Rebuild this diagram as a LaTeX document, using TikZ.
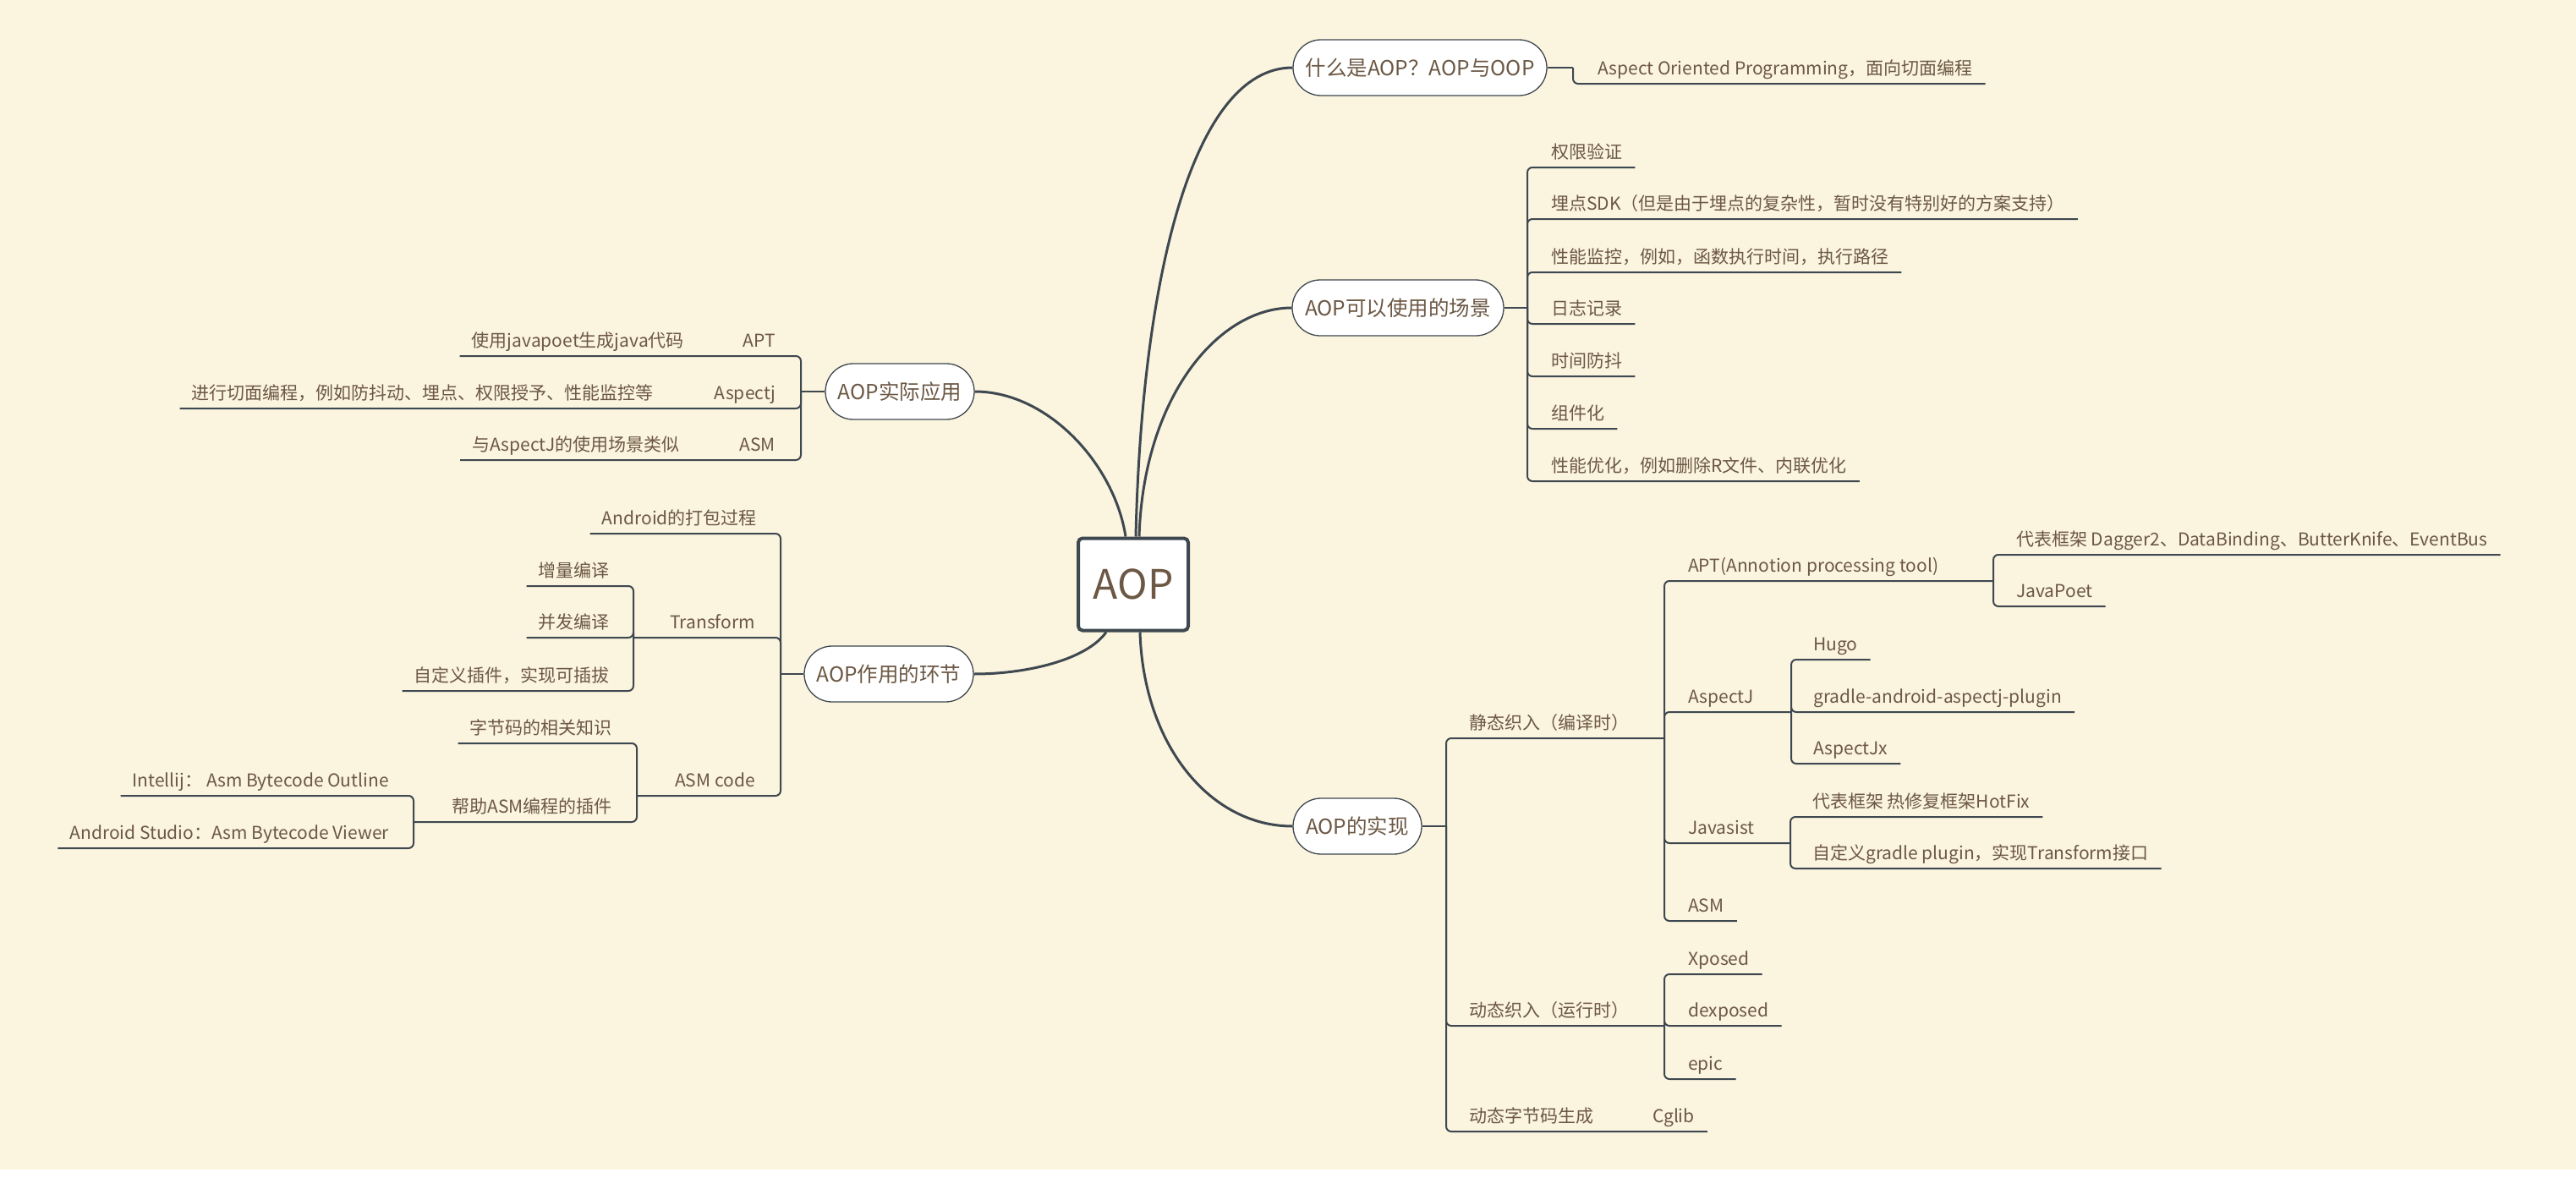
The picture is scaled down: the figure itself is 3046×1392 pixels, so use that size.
\documentclass[tikz,border=0pt]{standalone}
\usepackage{fontspec}
\setmainfont{Noto Sans CJK SC}
\usetikzlibrary{calc}
\definecolor{bgc}{RGB}{251,244,222}
\definecolor{lnc}{RGB}{62,72,80}
\definecolor{txc}{RGB}{108,88,68}
\tikzset{
  leaf/.style={inner sep=0pt, text height=17pt, text depth=10pt, text=txc, font=\fontsize{21}{25}\selectfont},
  lf/.style={leaf, anchor=south west},
  lfl/.style={leaf, anchor=south east},
  topic/.style={draw=lnc, line width=1.3pt, fill=white, rounded corners=33pt, minimum height=66pt, inner xsep=6pt, text=txc, font=\fontsize{24.5}{28}\selectfont},
  rootbox/.style={draw=lnc, line width=4pt, fill=white, rounded corners=5pt, minimum width=130pt, minimum height=109pt, inner sep=0pt, text=txc, font=\fontsize{48}{56}\selectfont},
  br/.style={draw=lnc, line width=2pt, rounded corners=6pt},
  stub/.style={draw=lnc, line width=2.6pt},
  mainc/.style={draw=lnc, line width=3pt},
}
\newcommand\RB[2]{\draw[br] (#1) -- (#1 |- #2.south) -- ([xshift=15pt]#2.south east);}
\newcommand\LB[2]{\draw[br] (#1) -- (#1 |- #2.south) -- ([xshift=-14pt]#2.south west);}
\begin{document}
\begin{tikzpicture}[x=1pt,y=-1pt]
\useasboundingbox (0,0) rectangle (3046,1392);
\fill[white] (0,0) rectangle (3046,1392);
\fill[bgc] (0,0) rectangle (3046,1383);

% main topics
\node[rootbox] (root) at (1340,691) {AOP};
\node[topic, minimum width=300pt] (t1) at (1679,80) {什么是AOP？AOP与OOP};
\node[topic, minimum width=250pt] (t2) at (1653,364) {AOP可以使用的场景};
\node[topic, minimum width=176pt] (t3) at (1064,463) {AOP实际应用};
\node[topic, minimum width=200pt] (t4) at (1051,797) {AOP作用的环节};
\node[topic, minimum width=152pt] (t5) at (1605,977) {AOP的实现};

\draw[mainc] ([xshift=3pt]root.north) .. controls (1350,330) and (1410,80) .. (t1.west);
\draw[mainc] ([xshift=7pt]root.north) .. controls (1352,470) and (1440,364) .. (t2.west);
\draw[mainc] ([xshift=-9pt]root.north) .. controls (1318,550) and (1240,463) .. (t3.east);
\draw[mainc] ([xshift=-32pt]root.south) .. controls (1285,780) and (1215,797) .. (t4.east);
\draw[mainc] ([xshift=8pt]root.south) .. controls (1352,880) and (1430,977) .. (t5.west);

% T1
\node[lf] (a1) at (1889,99) {Aspect Oriented Programming，面向切面编程};
\coordinate (j1) at (1860,80);
\draw[stub] (t1.east) -- (j1);
\RB{j1}{a1}

% T2
\coordinate (j2) at (1806,364);
\draw[stub] (t2.east) -- (j2);
\node[lf] (b1) at (1834,198) {权限验证};
\node[lf] (b2) at (1834,259) {埋点SDK（但是由于埋点的复杂性，暂时没有特别好的方案支持）};
\node[lf] (b3) at (1834,322) {性能监控，例如，函数执行时间，执行路径};
\node[lf] (b4) at (1834,383) {日志记录};
\node[lf] (b5) at (1834,445) {时间防抖};
\node[lf] (b6) at (1834,507) {组件化};
\node[lf] (b7) at (1834,569) {性能优化，例如删除R文件、内联优化};
\RB{j2}{b1}\RB{j2}{b2}\RB{j2}{b3}\RB{j2}{b4}\RB{j2}{b5}\RB{j2}{b6}\RB{j2}{b7}

% T3 (left)
\coordinate (j3) at (947,463);
\draw[stub] (t3.west) -- (j3);
\node[lfl] (r1) at (917,421) {APT};
\node[lfl] (r2) at (917,483) {Aspectj};
\node[lfl] (r3) at (917,544) {ASM};
\node[lfl] (g1) at (809,421) {使用javapoet生成java代码};
\node[lfl] (g2) at (773,483) {进行切面编程，例如防抖动、埋点、权限授予、性能监控等};
\node[lfl] (g3) at (804,544) {与AspectJ的使用场景类似};
\LB{j3}{g1}\LB{j3}{g2}\LB{j3}{g3}

% T4 (left)
\coordinate (j4) at (923,797);
\draw[stub] (t4.west) -- (j4);
\node[lfl] (u1) at (895,631) {Android的打包过程};
\node[lfl] (u2) at (893,754) {Transform};
\node[lfl] (u3) at (893,941) {ASM code};
\LB{j4}{u1}
\coordinate (j42) at (749,754);
\coordinate (j43) at (753,941);
\draw[br] (j4) -- (j4 |- u2.south) -- (j42);
\draw[br] (j4) -- (j4 |- u3.south) -- (j43);
\node[lfl] (v1) at (721,693) {增量编译};
\node[lfl] (v2) at (721,754) {并发编译};
\node[lfl] (v3) at (721,817) {自定义插件，实现可插拔};
\LB{j42}{v1}\LB{j42}{v2}\LB{j42}{v3}
\node[lfl] (w1) at (724,879) {字节码的相关知识};
\node[lfl] (w2) at (724,972) {帮助ASM编程的插件};
\LB{j43}{w1}
\coordinate (j432) at (489,972);
\draw[br] (j43) -- (j43 |- w2.south) -- (j432);
\node[lfl] (z1) at (460,941) {Intellij： Asm Bytecode Outline};
\node[lfl] (z2) at (460,1003) {Android Studio：Asm Bytecode Viewer};
\LB{j432}{z1}\LB{j432}{z2}

% T5
\coordinate (j5) at (1710,977);
\draw[stub] (t5.east) -- (j5);
\node[lf] (s1) at (1737,873) {静态织入（编译时）};
\node[lf] (s2) at (1737,1213) {动态织入（运行时）};
\node[lf] (s3) at (1737,1338) {动态字节码生成};
\coordinate (j51) at (1968,873);
\coordinate (j52) at (1968,1213);
\draw[br] (j5) -- (j5 |- s1.south) -- (j51);
\draw[br] (j5) -- (j5 |- s2.south) -- (j52);
\node[lf] (cg) at (1954,1338) {Cglib};
\RB{j5}{cg}

\node[lf] (p1) at (1996,687) {APT(Annotion processing tool)};
\node[lf] (p2) at (1996,842) {AspectJ};
\node[lf] (p3) at (1996,997) {Javasist};
\node[lf] (p4) at (1996,1089) {ASM};
\coordinate (j511) at (2357,687);
\coordinate (j512) at (2118,842);
\coordinate (j513) at (2117,997);
\draw[br] (j51) -- (j51 |- p1.south) -- (j511);
\draw[br] (j51) -- (j51 |- p2.south) -- (j512);
\draw[br] (j51) -- (j51 |- p3.south) -- (j513);
\RB{j51}{p4}

\node[lf] (q1) at (2384,656) {代表框架 Dagger2、DataBinding、ButterKnife、EventBus};
\node[lf] (q2) at (2384,717) {JavaPoet};
\RB{j511}{q1}\RB{j511}{q2}
\node[lf] (q3) at (2144,780) {Hugo};
\node[lf] (q4) at (2144,842) {gradle-android-aspectj-plugin};
\node[lf] (q5) at (2144,903) {AspectJx};
\RB{j512}{q3}\RB{j512}{q4}\RB{j512}{q5}
\node[lf] (q6) at (2143,966) {代表框架 热修复框架HotFix};
\node[lf] (q7) at (2143,1027) {自定义gradle plugin，实现Transform接口};
\RB{j513}{q6}\RB{j513}{q7}

\node[lf] (x1) at (1996,1152) {Xposed};
\node[lf] (x2) at (1996,1213) {dexposed};
\node[lf] (x3) at (1996,1276) {epic};
\RB{j52}{x1}\RB{j52}{x2}\RB{j52}{x3}
\end{tikzpicture}
\end{document}
